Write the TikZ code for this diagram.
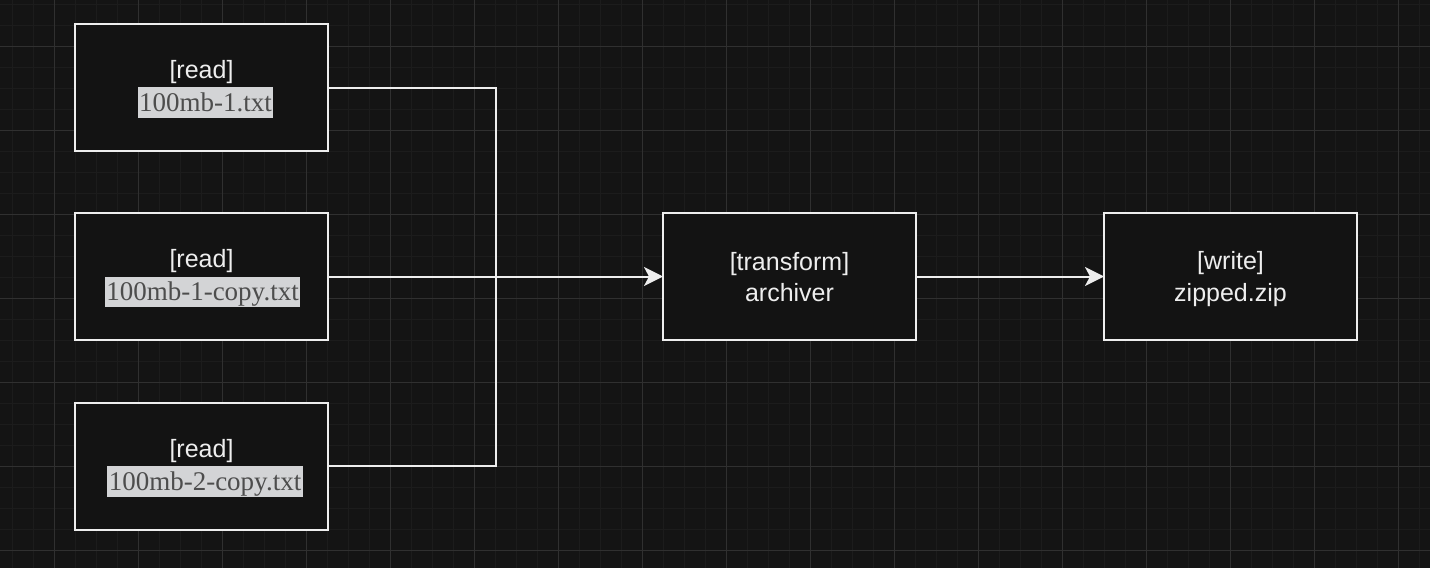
\documentclass[tikz,border=0pt]{standalone}
\usepackage{fontspec}
\setmainfont{Liberation Serif}
\newfontfamily\sansfam{Liberation Sans}
\usetikzlibrary{arrows.meta}
\definecolor{bgc}{RGB}{20,20,20}
\definecolor{boxfill}{RGB}{19,19,19}
\definecolor{minorc}{RGB}{28,28,28}
\definecolor{majorc}{RGB}{48,48,48}
\definecolor{strokec}{RGB}{238,238,238}
\definecolor{hlbg}{RGB}{211,212,214}
\definecolor{hltext}{RGB}{77,77,77}
\newcommand\hlbox[1]{{\setlength{\fboxsep}{0pt}\colorbox{hlbg}{\rule[-0.24em]{0pt}{1.14em}\hspace{1.5pt}\textcolor{hltext}{#1}\hspace{1.5pt}}}}
\tikzset{
  box/.style={draw=strokec, line width=2pt, fill=boxfill, minimum width=253pt, minimum height=127pt, inner sep=0pt, outer sep=0pt},
  lab/.style={text=strokec, font=\sansfam\fontsize{25}{30}\selectfont, inner sep=0pt, anchor=base},
  hl/.style={font=\fontsize{27}{32}\selectfont, inner sep=0pt, anchor=base},
  conn/.style={draw=strokec, line width=2pt},
  tip/.style={-{Stealth[length=19pt, width=19pt, inset=5pt]}}
}
\begin{document}
\begin{tikzpicture}[x=1pt,y=-1pt]
\useasboundingbox (0,0) rectangle (1430,568);
\fill[bgc] (0,0) rectangle (1430,568);
% grid
\foreach \i in {0,...,67} {
  \draw[minorc, line width=1pt] ({12.3+21*\i},0) -- ({12.3+21*\i},568);
}
\foreach \i in {0,...,26} {
  \draw[minorc, line width=1pt] (0,{4+21*\i}) -- (1430,{4+21*\i});
}
\foreach \i in {0,...,16} {
  \draw[majorc, line width=1pt] ({54.3+84*\i},0) -- ({54.3+84*\i},568);
}
\foreach \i in {0,...,6} {
  \draw[majorc, line width=1pt] (0,{46+84*\i}) -- (1430,{46+84*\i});
}
% boxes
\node[box] (r1) at (201.5,87.5) {};
\node[box] (r2) at (201.5,276.5) {};
\node[box] (r3) at (201.5,466) {};
\node[box] (ar) at (789.5,276.5) {};
\node[box] (wr) at (1230.5,276.5) {};
% texts
\node[lab] (r1a) at (201.5,78.8) {[read]};
\node[hl]  (r1b) at (205.5,111.7) {\hlbox{100mb-1.txt}};
\node[lab] (r2a) at (201.5,267.8) {[read]};
\node[hl]  (r2b) at (202.5,300.9) {\hlbox{100mb-1-copy.txt}};
\node[lab] (r3a) at (201.5,457.3) {[read]};
\node[hl]  (r3b) at (205,490.4) {\hlbox{100mb-2-copy.txt}};
\node[lab] (ara) at (789.5,270.5) {[transform]};
\node[lab] (arb) at (789.5,301.2) {archiver};
\node[lab] (wra) at (1230.5,269.8) {[write]};
\node[lab] (wrb) at (1230.5,301.0) {zipped.zip};
% connectors
\coordinate (j) at (495.5,276.5);
\draw[conn] (r1.east) -| (j);
\draw[conn] (r3.east) -| (j);
\draw[conn, tip] (r2.east) -- (ar.west);
\draw[conn, tip] (ar.east) -- (wr.west);
\end{tikzpicture}
\end{document}
